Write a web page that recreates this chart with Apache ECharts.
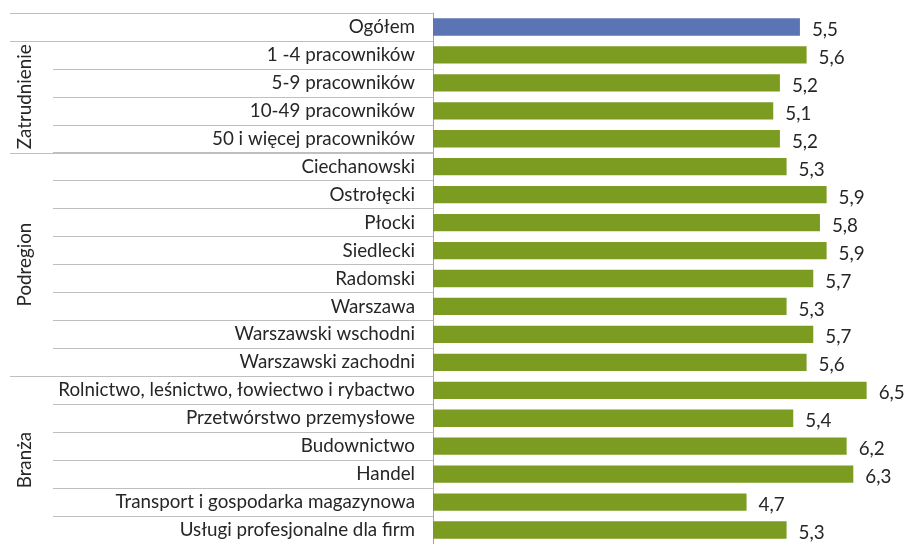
<!DOCTYPE html>
<html>
<head>
<meta charset="utf-8">
<script src="https://cdn.jsdelivr.net/npm/echarts@6/dist/echarts.min.js"></script>
<style>
  html, body { margin: 0; padding: 0; background: #fff; }
  #chart { width: 906px; height: 544px; }
</style>
</head>
<body>
<div id="chart"></div>
<script>
// Rows of the chart, top to bottom
const categories = [
  'Ogółem',
  '1 -4 pracowników',
  '5-9 pracowników',
  '10-49 pracowników',
  '50 i więcej pracowników',
  'Ciechanowski',
  'Ostrołęcki',
  'Płocki',
  'Siedlecki',
  'Radomski',
  'Warszawa',
  'Warszawski wschodni',
  'Warszawski zachodni',
  'Rolnictwo, leśnictwo, łowiectwo i rybactwo',
  'Przetwórstwo przemysłowe',
  'Budownictwo',
  'Handel',
  'Transport i gospodarka magazynowa',
  'Usługi profesjonalne dla firm'
];

const values = [5.5, 5.6, 5.2, 5.1, 5.2, 5.3, 5.9, 5.8, 5.9, 5.7, 5.3, 5.7, 5.6, 6.5, 5.4, 6.2, 6.3, 4.7, 5.3];

// Group captions and the first/last row index each one covers
const groupNames = ['Zatrudnienie', 'Podregion', 'Branża'];
const groupFirst = [1, 5, 13];
const groupLast = [4, 12, 18];

const BLUE = '#5b74b4';
const GREEN = '#7b9c21';
const LINE = '#bfbfbf';
const TEXT = '#262626';
const FONT = 'Lato';
const FONT_SIZE = 18.8;

const chart = echarts.init(document.getElementById('chart'), null, { renderer: 'canvas' });

chart.setOption({
  animation: false,
  grid: { left: 433, top: 13, right: 6, height: 536 },
  xAxis: {
    type: 'value',
    min: 0,
    max: 7,
    show: false
  },
  yAxis: {
    type: 'category',
    inverse: true,
    data: categories,
    axisLine: { show: true, lineStyle: { color: '#a6a6a6', width: 1 } },
    axisTick: { show: true, length: 380, lineStyle: { color: LINE, width: 1 } },
    axisLabel: { margin: 18, fontSize: FONT_SIZE, fontFamily: FONT, color: TEXT }
  },
  series: [{
    type: 'bar',
    data: values,
    barCategoryGap: '38%',
    itemStyle: {
      color: p => (p.dataIndex === 0 ? BLUE : GREEN)
    },
    label: {
      show: true,
      position: 'right',
      distance: 12,
      offset: [0, 3],
      fontSize: FONT_SIZE,
      fontFamily: FONT,
      color: TEXT,
      formatter: p => String(p.value).replace('.', ',')
    }
  }]
});

// Separator lines across the label column and the rotated group captions
function drawGroups() {
  const rowCenter = i => chart.convertToPixel({ yAxisIndex: 0 }, categories[i]);
  const rowH = rowCenter(1) - rowCenter(0);
  const axisX = chart.convertToPixel({ xAxisIndex: 0 }, 0);
  const elements = [];

  const boundaries = [0].concat(groupFirst);
  boundaries.forEach(i => {
    const y = Math.round(rowCenter(i) - rowH / 2) + 0.5;
    elements.push({
      type: 'line',
      shape: { x1: 10, y1: y, x2: axisX, y2: y },
      style: { stroke: LINE, lineWidth: 1 },
      silent: true
    });
  });

  groupNames.forEach((name, g) => {
    const yc = (rowCenter(groupFirst[g]) + rowCenter(groupLast[g])) / 2;
    elements.push({
      type: 'text',
      x: 25,
      y: yc,
      rotation: Math.PI / 2,
      style: {
        text: name,
        fontSize: FONT_SIZE,
        fontFamily: FONT,
        fill: TEXT,
        align: 'center',
        verticalAlign: 'middle'
      },
      silent: true
    });
  });

  chart.setOption({ graphic: elements });
}

drawGroups();
</script>
</body>
</html>
